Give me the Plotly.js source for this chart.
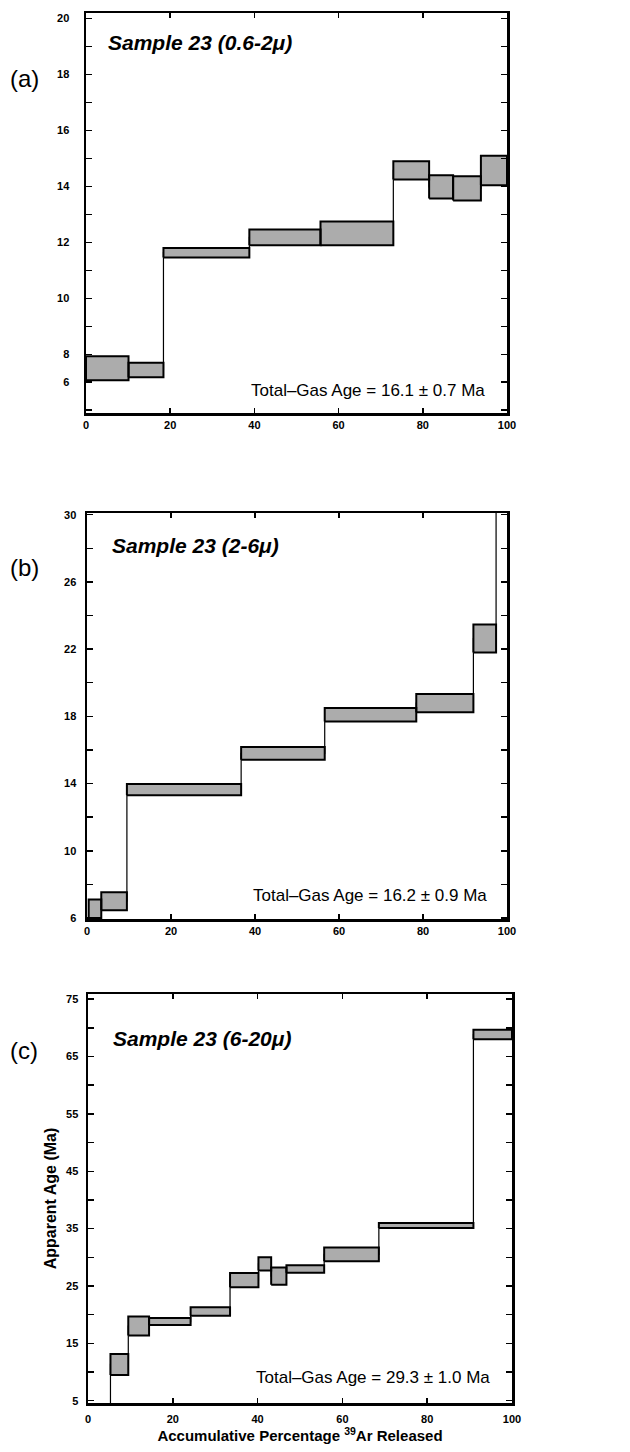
<!DOCTYPE html>
<html>
<head>
<meta charset="utf-8">
<script src="https://cdn.plot.ly/plotly-3.0.1.min.js"></script>
<style>html,body{margin:0;padding:0;background:#fff;}#chart{width:630px;height:1452px;}</style>
</head>
<body>
<div id="chart"></div>
<script>
// ---- Data ----
// Panel (a): Sample 23 (0.6-2µ)
const boundsA = [0, 10.1, 18.4, 38.8, 55.7, 73.0, 81.5, 87.2, 93.8, 100];
const loA = [7.07, 7.18, 11.46, 11.9, 11.9, 14.25, 13.57, 13.5, 14.04];
const hiA = [7.93, 7.7, 11.8, 12.46, 12.75, 14.9, 14.4, 14.36, 15.1];
const yTickValsA = [7, 8, 10, 12, 14, 16, 18, 20];
const yTickTextA = ['6', '8', '10', '12', '14', '16', '18', '20'];

// Panel (b): Sample 23 (2-6µ)
const boundsB = [0.4, 3.4, 9.5, 36.7, 56.6, 78.4, 92.0, 97.4, 100];
const loB = [6.0, 6.46, 13.3, 15.42, 17.7, 18.24, 21.8, 34.0];
const hiB = [7.1, 7.53, 13.98, 16.18, 18.5, 19.33, 23.46, 36.0];
const yTickValsB = [6, 10, 14, 18, 22, 26, 30];

// Panel (c): Sample 23 (6-20µ)
const boundsC = [0, 5.3, 9.5, 14.4, 24.2, 33.5, 40.2, 43.2, 46.8, 55.7, 68.6, 90.9, 100];
const loC = [1.0, 9.5, 16.35, 18.2, 19.8, 24.8, 27.7, 25.2, 27.3, 29.3, 35.1, 68.0];
const hiC = [3.0, 13.15, 19.7, 19.4, 21.3, 27.25, 30.0, 28.2, 28.6, 31.7, 36.0, 69.65];
const yTickValsC = [5, 15, 25, 35, 45, 55, 65, 75];

const xTickVals = [0, 20, 40, 60, 80, 100];

const sampleLabels = ['Sample 23 (0.6-2μ)', 'Sample 23 (2-6μ)', 'Sample 23 (6-20μ)'];
const totalGas = ['Total–Gas Age = 16.1 ± 0.7 Ma', 'Total–Gas Age = 16.2 ± 0.9 Ma', 'Total–Gas Age = 29.3 ± 1.0 Ma'];
const panelLetters = ['(a)', '(b)', '(c)'];

// ---- Build traces ----
function boxesTrace(bounds, lo, hi, xa, ya) {
  const x = [], y = [];
  for (let i = 0; i < lo.length; i++) {
    x.push(bounds[i], bounds[i + 1], bounds[i + 1], bounds[i], bounds[i], null);
    y.push(lo[i], lo[i], hi[i], hi[i], lo[i], null);
  }
  return {
    x, y, xaxis: xa, yaxis: ya, type: 'scatter', mode: 'lines',
    fill: 'toself', connectgaps: false,
    line: { color: '#000', width: 2 },
    fillpattern: { shape: '.', size: 2, solidity: 0.5, fgcolor: '#555', bgcolor: '#f0f0f0' },
    hoverinfo: 'skip', showlegend: false
  };
}
function stepTrace(bounds, lo, hi, xa, ya) {
  const x = [], y = [];
  for (let i = 0; i < lo.length; i++) {
    x.push(bounds[i]);
    y.push((lo[i] + hi[i]) / 2);
  }
  x.push(bounds[bounds.length - 1]);
  y.push((lo[lo.length - 1] + hi[hi.length - 1]) / 2);
  return {
    x, y, xaxis: xa, yaxis: ya, type: 'scatter', mode: 'lines',
    line: { color: '#000', width: 1.2, shape: 'hv' },
    hoverinfo: 'skip', showlegend: false
  };
}

const data = [
  stepTrace(boundsA, loA, hiA, 'x', 'y'),
  boxesTrace(boundsA, loA, hiA, 'x', 'y'),
  stepTrace(boundsB, loB, hiB, 'x2', 'y2'),
  boxesTrace(boundsB, loB, hiB, 'x2', 'y2'),
  stepTrace(boundsC, loC, hiC, 'x3', 'y3'),
  boxesTrace(boundsC, loC, hiC, 'x3', 'y3')
];

// ---- Layout ----
const W = 630, H = 1452;
const px = v => v / W;
const py = v => 1 - v / H;
const FAM = 'Liberation Sans, Arial, sans-serif';
const tickFont = { family: FAM, size: 11, color: '#000', weight: 'bold' };

function xAxis(left, right, anchor) {
  return {
    domain: [px(left), px(right)], anchor,
    range: [0, 100], tickvals: xTickVals, ticktext: xTickVals.map(String),
    ticks: 'inside', ticklen: 5, tickwidth: 1.5, tickcolor: '#000',
    showline: true, linewidth: 2.5, linecolor: '#000', mirror: 'ticks',
    showgrid: false, zeroline: false, tickfont: tickFont, fixedrange: true
  };
}
function yAxis(top, bottom, anchor, range, tickvals, ticktext, minorDtick, standoff) {
  return {
    domain: [py(bottom), py(top)], anchor,
    range, tickvals, ticktext: ticktext || tickvals.map(String),
    ticks: 'inside', ticklen: 6, tickwidth: 1.5, tickcolor: '#000',
    minor: { dtick: minorDtick, tick0: 0, ticks: 'inside', ticklen: 6, tickwidth: 1.5, tickcolor: '#000' },
    showline: true, linewidth: 2.5, linecolor: '#000', mirror: 'ticks',
    showgrid: false, zeroline: false, tickfont: tickFont, fixedrange: true,
    ticklabelstandoff: standoff
  };
}

const layout = {
  width: W, height: H,
  margin: { l: 0, r: 0, t: 0, b: 0 },
  paper_bgcolor: '#fff', plot_bgcolor: '#fff',
  showlegend: false,
  xaxis: xAxis(86, 507, 'y'),
  yaxis: yAxis(13, 413, 'x', [5.9, 20.2], yTickValsA, yTickTextA, 1, 12),
  xaxis2: xAxis(87, 507, 'y2'),
  yaxis2: yAxis(513, 919, 'x2', [5.94, 30.1], yTickValsB, null, 2, 6),
  xaxis3: Object.assign(xAxis(88, 512, 'y3'), {
    ticklabelstandoff: 4,
    title: { text: 'Accumulative Percentage <sup>39</sup>Ar Released', font: { family: FAM, size: 15, color: '#000', weight: 'bold' }, standoff: 5 }
  }),
  yaxis3: Object.assign(yAxis(994, 1403, 'x3', [4.6, 75.9], yTickValsC, null, 5, 5), {
    title: { text: 'Apparent Age (Ma)', font: { family: FAM, size: 16, color: '#000', weight: 'bold' }, standoff: 6 }
  }),
  annotations: []
};

const sampleY = [43, 545, 1038];
const sampleX = [106, 110, 111];
const gasY = [390, 895, 1377];
const gasX = [487, 489, 492];
const letterY = [78, 567, 1050];
for (let i = 0; i < 3; i++) {
  layout.annotations.push({
    xref: 'paper', yref: 'paper', x: px(sampleX[i]), y: py(sampleY[i]),
    xanchor: 'left', yanchor: 'middle', showarrow: false, text: sampleLabels[i],
    font: { family: FAM, size: 21, color: '#000', weight: 'bold', style: 'italic' }
  });
  layout.annotations.push({
    xref: 'paper', yref: 'paper', x: px(gasX[i]), y: py(gasY[i]),
    xanchor: 'right', yanchor: 'middle', showarrow: false, text: totalGas[i],
    font: { family: FAM, size: 17, color: '#000' }
  });
  layout.annotations.push({
    xref: 'paper', yref: 'paper', x: px(8), y: py(letterY[i]),
    xanchor: 'left', yanchor: 'middle', showarrow: false, text: panelLetters[i],
    font: { family: FAM, size: 24, color: '#000' }
  });
}

Plotly.newPlot('chart', data, layout, { staticPlot: true, displayModeBar: false });
</script>
</body>
</html>
